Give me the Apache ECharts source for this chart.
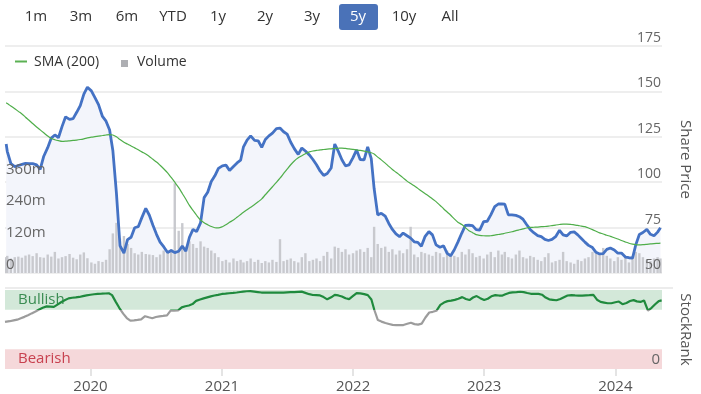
<!DOCTYPE html>
<html><head><meta charset="utf-8">
<script src="https://cdn.jsdelivr.net/npm/echarts@6/dist/echarts.min.js"></script>
<style>html,body{margin:0;padding:0;background:#fff}#c{width:701px;height:394px}</style>
</head><body><div id="c"></div>
<script>
const dates = ['2019-05-08','2019-05-11','2019-05-21',
'2019-06-01','2019-06-11','2019-06-21','2019-07-01','2019-07-11','2019-07-21','2019-08-01','2019-08-11','2019-08-21',
'2019-09-01','2019-09-11','2019-09-21','2019-10-01','2019-10-11','2019-10-21','2019-11-01','2019-11-11','2019-11-21',
'2019-12-01','2019-12-11','2019-12-21',
'2020-01-01','2020-01-11','2020-01-21','2020-02-01','2020-02-11','2020-02-21','2020-03-01','2020-03-11','2020-03-21',
'2020-04-01','2020-04-11','2020-04-21','2020-05-01','2020-05-11','2020-05-21','2020-06-01','2020-06-11','2020-06-21',
'2020-07-01','2020-07-11','2020-07-21','2020-08-01','2020-08-11','2020-08-21','2020-09-01','2020-09-11','2020-09-21',
'2020-10-01','2020-10-11','2020-10-21','2020-11-01','2020-11-11','2020-11-21','2020-12-01','2020-12-11','2020-12-21',
'2021-01-01','2021-01-11','2021-01-21','2021-02-01','2021-02-11','2021-02-21','2021-03-01','2021-03-11','2021-03-21',
'2021-04-01','2021-04-11','2021-04-21','2021-05-01','2021-05-11','2021-05-21','2021-06-01','2021-06-11','2021-06-21',
'2021-07-01','2021-07-11','2021-07-21','2021-08-01','2021-08-11','2021-08-21','2021-09-01','2021-09-11','2021-09-21',
'2021-10-01','2021-10-11','2021-10-21','2021-11-01','2021-11-11','2021-11-21','2021-12-01','2021-12-11','2021-12-21',
'2022-01-01','2022-01-11','2022-01-21','2022-02-01','2022-02-11','2022-02-21','2022-03-01','2022-03-11','2022-03-21',
'2022-04-01','2022-04-11','2022-04-21','2022-05-01','2022-05-11','2022-05-21','2022-06-01','2022-06-11','2022-06-21',
'2022-07-01','2022-07-11','2022-07-21','2022-08-01','2022-08-11','2022-08-21','2022-09-01','2022-09-11','2022-09-21',
'2022-10-01','2022-10-11','2022-10-21','2022-11-01','2022-11-11','2022-11-21','2022-12-01','2022-12-11','2022-12-21',
'2023-01-01','2023-01-11','2023-01-21','2023-02-01','2023-02-11','2023-02-21','2023-03-01','2023-03-11','2023-03-21',
'2023-04-01','2023-04-11','2023-04-21','2023-05-01','2023-05-11','2023-05-21','2023-06-01','2023-06-11','2023-06-21',
'2023-07-01','2023-07-11','2023-07-21','2023-08-01','2023-08-11','2023-08-21','2023-09-01','2023-09-11','2023-09-21',
'2023-10-01','2023-10-11','2023-10-21','2023-11-01','2023-11-11','2023-11-21','2023-12-01','2023-12-11','2023-12-21',
'2024-01-01','2024-01-11','2024-01-21','2024-02-01','2024-02-11','2024-02-21','2024-03-01','2024-03-11','2024-03-21',
'2024-04-01','2024-04-11','2024-04-21','2024-05-01','2024-05-09'];

const price = [121.0,117,110.3,
108.6,109.2,109.8, 110.4,110.2,110.2, 109.5,107.0,114.3,
119.0,124.3,126.0, 124.5,130.6,136.0, 134.6,135.0,138.5,
142.2,148.5,152.3,
150.3,146.6,142.7, 136.2,133.6,128.7, 117.5,94,65.0,
60.9,68.4,69.7, 74.9,75.5,80.5, 85.6,81.8,76.3,
71.3,67.0,64.5, 61.3,62.4,61.2, 62.0,64.8,62.0,
69.7,74.0,72.8, 77.6,91.5,94.5, 100.4,103.5,107.6,
109.0,109.4,106.5, 108.7,110.6,112.1, 119.5,123.2,125.5,
123.0,122.8,119.2, 123.5,125.5,127.0, 129.5,129.8,127.8,
126.5,122.0,118.5, 115.3,118.8,117.2, 115.0,112.5,109.6,
106.2,103.7,104.8, 107.8,121.0,117.0, 112.4,109.0,109.5,
113.5,117.8,112.5, 112.3,119.5,113.0, 96.5,82.0,82.9,
81.3,77.3,74.0, 71.5,70.0,72.0, 70.5,69.2,67.2,
66.9,64.7,70.0, 72.8,71.0,65.5, 64.2,65.0,60.8,
59.5,62.8,67.0, 72.0,76.2,76.3, 76.1,73.9,73.6,
78.3,78.5,82.0, 86.5,88.0,88.0, 87.9,82.0,82.0,
81.7,81.0,79.6, 76.7,74.0,72.2, 70.6,70.0,68.5,
67.9,68.5,70.0, 73.5,71.0,70.4, 72.4,72.6,71.0,
69.0,67.0,65.2, 64.0,61.4,60.5, 60.7,63.0,63.8,
62.7,60.9,61.0, 58.8,58.4,58.2, 65.5,71.2,72.3,
74.0,71.3,70.5, 72.5,74.9];

const sma200 = [143.7,143.3,142.0,
140.5,139.0,137.6, 135.8,134.1,132.3, 130.4,128.8,127.2,
125.4,124.1,123.4, 122.9,122.5,122.6, 122.8,123.0,123.2,
123.5,123.9,124.4,
124.8,125.1,125.4, 125.7,126.0,126.2, 126.0,125.0,123.5,
122.0,121.0,119.9, 118.9,117.9,116.7, 115.5,114.2,112.6,
111.1,109.3,107.4, 105.1,102.6,100.0, 97.0,93.8,90.6,
87.2,84.5,81.8, 79.2,77.7,76.6, 75.6,74.9,74.8,
75.5,76.6,77.9, 79.2,80.7,82.2, 83.4,84.8,86.2,
87.7,89.2,90.8, 93.1,95.3,97.5, 99.9,102.2,104.7,
107.2,109.6,111.7, 113.4,114.6,115.7, 116.7,117.2,117.5,
117.8,118.0,118.2, 118.4,118.6,118.7, 118.8,118.6,118.4,
118.1,117.8,117.5, 117.1,116.7,116.2, 115.5,113.8,112.3,
110.5,108.7,107.0, 105.5,104.0,102.4, 100.6,99.3,98.0,
96.6,95.2,93.8, 92.3,90.8,89.3, 87.3,85.4,83.6,
81.8,79.8,78.0, 76.7,75.0,73.3, 72.2,71.1,70.7,
70.5,70.4,70.5, 70.9,71.2,71.5, 71.9,72.3,72.7,
73.3,73.8,74.3, 74.8,75.1,75.2, 75.3,75.5,75.6,
75.8,76.1,76.4, 76.7,76.9,76.9, 76.8,76.5,76.2,
75.8,75.5,74.8, 73.9,73.0,72.1, 71.5,70.8,70.2,
69.4,68.7,67.9, 67.1,66.4,65.9, 65.6,65.5,65.6,
65.8,66.0,66.2, 66.3,66.4];

const stockRank = [59.6,59.8,60.5,
61.5,62.4,64.2, 66.0,68.1,70.4, 72.8,75.3,77.5,
79.3,79.0,78.6, 81.5,84.5,87.0, 89.4,90.2,90.6,
91.2,92.2,93.2,
94.0,94.6,95.0, 95.3,95.6,95.8, 93.5,85.3,77.5,
70.1,64.5,61.2, 61.5,62.1,62.8, 66.8,65.5,64.3,
65.8,66.6,67.2, 67.9,74.0,74.0, 74.2,78.0,79.4,
80.4,82.2,86.2, 88.0,89.4,90.7, 92.0,93.0,93.9,
95.0,95.4,95.9, 96.3,96.8,97.5, 97.9,98.4,98.6,
98.0,97.4,96.8, 96.7,96.7,96.7, 96.7,96.7,96.8,
97.0,97.2,97.4, 97.7,97.9,96.4, 94.7,93.7,93.4,
93.1,91.0,88.2, 90.7,93.8,93.1, 91.8,89.5,88.5,
92.5,96.1,95.8, 94.7,93.5,88.0, 75.0,62.0,60.0,
58.2,57.0,55.8, 55.6,55.6,55.6, 57.2,58.6,56.8,
56.2,57.4,64.9, 71.5,72.4,73.7, 81.1,84.1,85.9,
86.5,87.5,89.0, 91.0,88.7,87.3, 90.5,92.3,89.7,
87.4,88.9,92.0, 93.5,93.0,92.9, 94.5,96.3,97.0,
97.4,97.8,97.3, 96.2,95.2,95.1, 95.1,94.0,90.5,
88.2,87.6,87.0, 88.6,90.8,93.0, 93.5,93.1,92.8,
92.8,93.1,93.4, 93.8,87.7,85.0, 84.1,83.2,83.2,
84.5,85.4,82.0, 83.6,86.0,87.2, 85.6,84.9,86.7,
74.0,77.5,82.0, 86.0,86.8];

const volume = [60,65,55,
60,62,58, 66,70,64, 75,60,58,
70,62,80, 55,60,64, 72,58,52,
70,78,56,
40,35,45, 42,50,90, 150,190,130,
140,110,95, 75,70,80, 72,70,68,
60,70,85, 78,90,340, 160,189,100,
120,110,95, 120,100,95, 85,75,60,
45,50,40, 55,45,50, 40,45,55,
42,50,38, 45,40,50, 42,128,45,
50,55,45, 40,60,75, 45,50,55,
45,65,80, 55,100,95, 80,90,70,
75,85,90, 80,95,60, 175,110,95,
100,80,90, 70,85,75, 90,175,70,
60,80,75, 70,65,80, 75,60,85,
70,65,60, 80,70,90, 75,60,65,
55,70,80, 60,85,70, 80,60,55,
70,85,60, 55,65,60, 50,45,60,
75,40,45, 50,80,45, 40,35,50,
45,55,60, 80,75,70, 95,65,55,
45,60,50, 65,40,55, 80,75,60,
50,45,55, 60,55];

const rangeButtons = ['1m','3m','6m','YTD','1y','2y','3y','5y','10y','All'];
const buttonX = [36,81,127,173,218,265,312,358,404,450];
const priceTicks = [50,75,100,125,150,175];
const volumeTicks = [0,120,240,360];
const bullishLevel = 75, bearishLevel = 25;

const FONT = '"Open Sans", "DejaVu Sans", sans-serif';
const zip = arr => dates.map((d,i)=>[d, arr[i]]);

const graphics = [];
graphics.push({type:'rect', shape:{x:339,y:4,width:39,height:26,r:3}, style:{fill:'#4a72b8'}});
rangeButtons.forEach((b,i)=>{
  graphics.push({type:'text', x:buttonX[i], y:17, style:{text:b, fill: b==='5y'?'#fff':'#333', font:'15px '+FONT, textAlign:'center', textVerticalAlign:'middle'}});
});
graphics.push({type:'line', shape:{x1:15,y1:61.5,x2:27,y2:61.5}, style:{stroke:'#5bb153', lineWidth:2}});
graphics.push({type:'text', x:34, y:62, style:{text:'SMA (200)', fill:'#333', font:'14px '+FONT, textVerticalAlign:'middle'}});
graphics.push({type:'rect', shape:{x:121,y:60,width:7,height:7}, style:{fill:'#aeafb3'}});
graphics.push({type:'text', x:137, y:62, style:{text:'Volume', fill:'#333', font:'14px '+FONT, textVerticalAlign:'middle'}});
graphics.push({type:'line', shape:{x1:5,y1:288,x2:673,y2:288}, style:{stroke:'#e6e6e6', lineWidth:1.5}});

const chart = echarts.init(document.getElementById('c'), null, {renderer:'canvas'});
chart.setOption({
  animation:false,
  textStyle:{fontFamily:FONT},
  graphic: graphics,
  grid:[
    {left:5, right:28, top:46, height:227},
    {left:5, right:28, top:290, height:81}
  ],
  xAxis:[
    {type:'time', gridIndex:0, min:'2019-05-08', max:'2024-05-10', show:false},
    {type:'time', gridIndex:1, min:'2019-05-08', max:'2024-05-10', splitNumber:5, z:10,
     axisLine:{show:false},
     axisTick:{show:true, length:7, lineStyle:{color:'#dcdcdc', width:1.5}},
     splitLine:{show:false},
     axisLabel:{color:'#555', fontSize:15, margin:10, showMinLabel:false, showMaxLabel:false,
       formatter: v => { const d=new Date(v); return (d.getMonth()===0 && d.getDate()===1) ? String(d.getFullYear()) : ''; } }
    }
  ],
  yAxis:[
    {type:'value', gridIndex:0, position:'right', min:priceTicks[0], max:priceTicks[priceTicks.length-1], interval:25, z:0,
     name:'Share Price', nameLocation:'middle', nameRotate:-90, nameGap:16,
     nameTextStyle:{color:'#555', fontSize:15},
     axisLine:{show:false}, axisTick:{show:false},
     splitLine:{show:true, lineStyle:{color:'#e8e8e8', width:1.5}},
     axisLabel:{show:false}
    },
    {type:'value', gridIndex:0, position:'right', min:priceTicks[0], max:priceTicks[priceTicks.length-1], interval:25, z:10,
     axisLine:{show:false}, axisTick:{show:false}, splitLine:{show:false},
     axisLabel:{inside:true, color:'#666', fontSize:14, verticalAlign:'bottom', margin:1, padding:[0,0,1,0],
       formatter: v => priceTicks.includes(v) ? String(v) : ''}
    },
    {type:'value', gridIndex:0, position:'left', min:0, max:860, interval:120, z:10,
     axisLine:{show:false}, axisTick:{show:false}, splitLine:{show:false},
     axisLabel:{inside:true, color:'#666', fontSize:15, verticalAlign:'bottom', margin:1, padding:[0,0,1,0],
       formatter: v => volumeTicks.includes(v) ? (v===0 ? '0' : v+'m') : ''}
    },
    {type:'value', gridIndex:1, position:'right', min:0, max:100, interval:100, z:10,
     name:'StockRank', nameLocation:'middle', nameRotate:-90, nameGap:16,
     nameTextStyle:{color:'#555', fontSize:15},
     axisLine:{show:false}, axisTick:{show:false}, splitLine:{show:false},
     axisLabel:{inside:true, color:'#666', fontSize:15, verticalAlign:'bottom', margin:2, padding:[0,0,2,0],
       formatter: v => v===0 ? '0' : ''}
    }
  ],
  visualMap:[{
    show:false, type:'piecewise', seriesIndex:5, dimension:1,
    pieces:[{min:0, max:bullishLevel, color:'#9c9c9c'},{min:bullishLevel, max:100, color:'#1f8a3d'}]
  }],
  series:[
    {name:'priceArea', type:'line', xAxisIndex:0, yAxisIndex:0, data:zip(price), symbol:'none',
     lineStyle:{width:0, opacity:0}, areaStyle:{color:'#f3f5fb', opacity:1}, z:1, silent:true},
    {name:'Volume', type:'bar', xAxisIndex:0, yAxisIndex:2, data:zip(volume), barWidth:2.4,
     itemStyle:{color:'#c8c9ce'}, z:2},
    {name:'Share Price', type:'line', xAxisIndex:0, yAxisIndex:0, data:zip(price), symbol:'none',
     lineStyle:{width:2.8, color:'#4472c4'}, z:3},
    {name:'SMA (200)', type:'line', xAxisIndex:0, yAxisIndex:0, data:zip(sma200), symbol:'none', smooth:0.3,
     lineStyle:{width:1.2, color:'#4fae4a'}, z:4},
    {name:'bands', type:'line', xAxisIndex:1, yAxisIndex:3, data:[], silent:true, z:1,
     markArea:{silent:true, data:[
       [{xAxis:'2019-05-08', yAxis:bullishLevel, itemStyle:{color:'#d3e8d9'}, label:{show:true, position:'insideLeft', distance:13, color:'#3a8c52', fontSize:15, formatter:'Bullish'}},{xAxis:'2024-05-10', yAxis:100}],
       [{xAxis:'2019-05-08', yAxis:0, itemStyle:{color:'#f5d8da'}, label:{show:true, position:'insideLeft', distance:13, color:'#c8414f', fontSize:15, formatter:'Bearish'}},{xAxis:'2024-05-10', yAxis:bearishLevel}]
     ]}
    },
    {name:'StockRank', type:'line', xAxisIndex:1, yAxisIndex:3, data:zip(stockRank), symbol:'none',
     lineStyle:{width:2.2}, z:5}
  ]
});
</script></body></html>
